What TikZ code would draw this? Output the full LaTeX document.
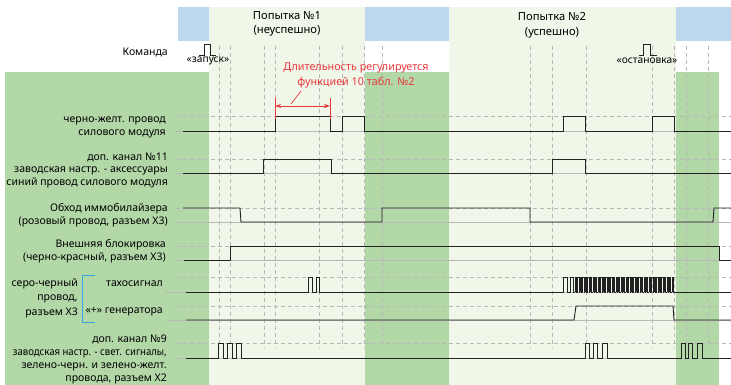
\documentclass[tikz,border=0pt]{standalone}
\usepackage{fontspec}
\setmainfont{Noto Sans}
\usetikzlibrary{arrows.meta}
\definecolor{mgreen}{HTML}{B3D8A8}
\definecolor{lgreen}{HTML}{F0F6E8}
\definecolor{lblue}{HTML}{BDD7EE}
\definecolor{gridc}{HTML}{B8B8B8}
\definecolor{sigc}{HTML}{222222}
\definecolor{redc}{HTML}{E8383D}
\definecolor{brc}{HTML}{3AA5DC}
\begin{document}
\begin{tikzpicture}[x=1pt,y=-1pt,
  lbl/.style={font=\fontsize{10.5}{12.8}\selectfont, align=right, anchor=east, inner sep=0pt},
  ctr/.style={font=\fontsize{10.2}{14}\selectfont, align=center, inner sep=0pt},
  vgrid/.style={gridc, dash pattern=on 4pt off 3pt, line width=0.8pt},
  hgrid/.style={gridc, dash pattern=on 4pt off 3pt, line width=0.8pt},
  lowline/.style={gridc, line width=0.8pt},
  sig/.style={sigc, line width=0.9pt},
  fine/.style={sigc, line width=0.55pt},
]
\useasboundingbox (0,0) rectangle (731,385);
\fill[white] (0,0) rectangle (731,385);
% backgrounds
\fill[lgreen] (209,7) rectangle (365,385);
\fill[lgreen] (449,7) rectangle (676,385);
\fill[lblue] (178,7) rectangle (209,41);
\fill[lblue] (365,7) rectangle (449,41);
\fill[lblue] (676,7) rectangle (731,41);
\fill[mgreen] (5,72) rectangle (209,385);
\fill[mgreen] (365,72) rectangle (449,385);
\fill[mgreen] (676,72) rectangle (719,385);
% grid
\foreach \x in {219,230,264,275,319,342,364,382,530,552,586,652,674,686,708}
  \draw[vgrid] (\x,46) -- (\x,348);
\foreach \y in {116,159,208,246,277,306,343}
  \draw[hgrid] (176,\y) -- (731,\y);
\foreach \y in {131,173,222,260,320,358}
  \draw[lowline] (176,\y) -- (731,\y);
\draw[lowline] (165,292) -- (731,292);
\draw[lowline] (167,320) -- (186,320);
% top texts
\node[ctr, font=\fontsize{11.2}{14.5}\selectfont] (att1) at (287,24) {Попытка №1\\(неуспешно)};
\node[ctr, font=\fontsize{11.2}{14.5}\selectfont] (att2) at (552,25.5) {Попытка №2\\(успешно)};
% command
\node[lbl] (cmd) at (168,52) {Команда};
\draw[sig, line width=0.7pt] (199,55) -- (204,55) -- (204,44) -- (210,44) -- (210,55) -- (216,55);
\node[ctr] (start) at (208,61) {«запуск»};
\draw[sig, line width=0.7pt] (639,55) -- (643,55) -- (643,44) -- (650,44) -- (650,55) -- (657,55);
\node[ctr] (stop) at (647,61) {«остановка»};
% labels
\node[lbl] (l1) at (166,127) {черно-желт. провод\\силового модуля};
\node[lbl] (l2) at (168,170.5) {доп. канал №11\\заводская настр. - аксессуары\\синий провод силового модуля};
\node[lbl] (l3) at (168,215) {Обход иммобилайзера\\(розовый провод, разъем X3)};
\node[lbl] (l4) at (166,251) {Внешняя блокировка\\(черно-красный, разъем X3)};
\node[lbl, font=\fontsize{10.5}{14.5}\selectfont] (l5) at (78,298) {серо-черный\\провод,\\разъем X3};
\node[lbl] (l6) at (163,284) {тахосигнал};
\node[lbl] (l7) at (163,312) {«+» генератора};
\node[lbl] (l8) at (167,359.5) {доп. канал №9\\\scalebox{0.91}[1]{заводская настр. - свет. сигналы,}\\зелено-черн. и зелено-желт.\\провода, разъем X2};
% bracket
\draw[brc, line width=0.9pt] (95,275) -- (82,275) -- (82,322) -- (95,322);
% signal 1
\draw[sig] (183,131) -- (275,131) -- (275,116) -- (330,116) -- (330,131) -- (342,131) -- (342,116) -- (364,116) -- (364,131)
  -- (563,131) -- (563,116) -- (585,116) -- (585,131) -- (652,131) -- (652,116) -- (674,116) -- (674,131) -- (731,131);
% signal 2
\draw[sig] (183,173) -- (263,173) -- (263,159) -- (331,159) -- (331,173) -- (552,173) -- (552,159) -- (585,159) -- (585,173) -- (731,173);
% signal 3
\draw[sig] (183,208) -- (240,208) -- (241,222) -- (382,222) -- (382,208) -- (530,208) -- (530,222) -- (713,222) -- (714,208) -- (731,208);
% signal 4
\draw[sig] (184,260) -- (230,260) -- (230,246) -- (719,246) -- (719,260) -- (731,260);
% signal 5 tacho
\draw[sig] (186,292) -- (308,292) -- (308,277) -- (312,277) -- (312,292) -- (316,292) -- (316,277) -- (319,277) -- (319,292)
  -- (563,292) -- (563,277) -- (567,277) -- (567,292) -- (570,292) -- (570,277) -- (573,277) -- (573,292) -- (575,292);
\foreach \i in {0,...,38}
  \draw[fine] ({575+2.55*\i},292) -- ++(0,-15) -- ++(1.27,0) -- ++(0,15) -- ++(1.28,0);
\draw[sig] (674,292) -- (731,292);
% signal 6
\draw[sig] (186,320) -- (574,320) -- (576,306) -- (673,306) -- (674,320) -- (731,320);
% signal 7
\draw[sig] (186,358) -- (218,358) -- (218,343) -- (223,343) -- (223,358) -- (227,358) -- (227,343) -- (232,343) -- (232,358)
  -- (236,358) -- (236,343) -- (241,343) -- (241,358) -- (585,358) -- (585,343) -- (589,343) -- (589,358) -- (593,358)
  -- (593,343) -- (597,343) -- (597,358) -- (602,358) -- (602,343) -- (607,343) -- (607,358) -- (681,358) -- (681,343)
  -- (685,343) -- (685,358) -- (688,358) -- (688,343) -- (692,343) -- (692,358) -- (697,358) -- (697,343) -- (702,343)
  -- (702,358) -- (731,358);
% red annotation
\coordinate (ra) at (275,106);
\coordinate (rb) at (330,106);
\draw[redc, line width=0.9pt] (275,98) -- (275,119);
\draw[redc, line width=0.9pt] (330,98) -- (330,119);
\draw[redc, line width=0.8pt, {Stealth[length=6pt,width=4pt]}-{Stealth[length=6pt,width=4pt]}] (ra) -- (rb);
\node[ctr, text=redc, font=\fontsize{10.8}{14.5}\selectfont] (note) at (356,75.5) {Длительность регулируется\\функцией 10 табл. №2};
\coordinate (lead1) at (291,104);
\coordinate (lead2) at (301,91);
\draw[redc, line width=0.7pt] (lead1) -- (lead2);
\end{tikzpicture}
\end{document}
